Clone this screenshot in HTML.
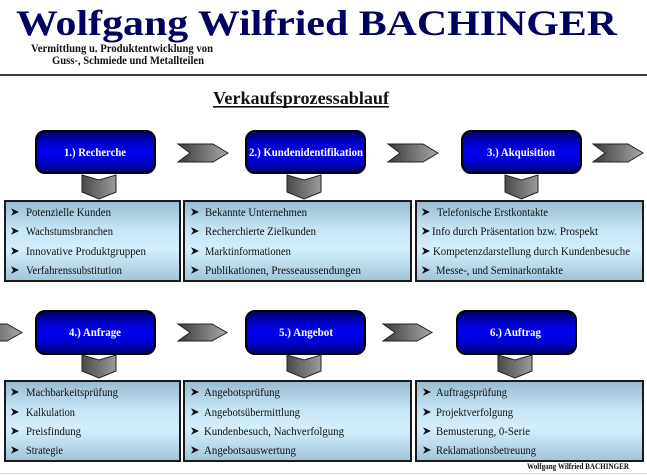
<!DOCTYPE html>
<html>
<head>
<meta charset="utf-8">
<style>
  html, body { margin: 0; padding: 0; background: #ffffff; }
  body { width: 647px; height: 475px; overflow: hidden; }
  svg { display: block; }
  .t { font-family: "Liberation Serif", "DejaVu Serif", serif; }
</style>
</head>
<body>
<svg width="647" height="475" viewBox="0 0 647 475" xmlns="http://www.w3.org/2000/svg">
  <defs>
    <linearGradient id="blue" x1="0" y1="0" x2="0" y2="1">
      <stop offset="0" stop-color="#00005e"/>
      <stop offset="0.28" stop-color="#0000c8"/>
      <stop offset="0.5" stop-color="#0000f2"/>
      <stop offset="0.75" stop-color="#0000cc"/>
      <stop offset="1" stop-color="#00006a"/>
    </linearGradient>
    <linearGradient id="light" x1="0" y1="0" x2="0" y2="1">
      <stop offset="0" stop-color="#98bbcf"/>
      <stop offset="0.35" stop-color="#c6e4f4"/>
      <stop offset="0.6" stop-color="#d4effc"/>
      <stop offset="1" stop-color="#a2c4d8"/>
    </linearGradient>
    <linearGradient id="gray" x1="0" y1="0" x2="1" y2="0">
      <stop offset="0" stop-color="#3a3a3a"/>
      <stop offset="1" stop-color="#a8a8a8"/>
    </linearGradient>
    <linearGradient id="grayd" x1="0" y1="0" x2="1" y2="0">
      <stop offset="0" stop-color="#4a4a4a"/>
      <stop offset="1" stop-color="#9a9a9a"/>
    </linearGradient>
    <path id="bul" d="M0,-3.8 L8,0 L0,3.8 L2.2,0 Z" fill="#111"/>
  </defs>

  <!-- Header -->
  <text class="t" x="16" y="35" font-size="36" font-weight="bold" fill="#000060" textLength="601" lengthAdjust="spacingAndGlyphs">Wolfgang Wilfried BACHINGER</text>
  <text class="t" x="31" y="52" font-size="12" font-weight="bold" fill="#111" textLength="182" lengthAdjust="spacingAndGlyphs">Vermittlung u. Produktentwicklung von</text>
  <text class="t" x="52" y="64" font-size="12" font-weight="bold" fill="#111" textLength="152" lengthAdjust="spacingAndGlyphs">Guss-, Schmiede und Metallteilen</text>
  <rect x="0" y="74" width="647" height="2" fill="#3a3a3a"/>

  <text class="t" x="213" y="104" font-size="18" font-weight="bold" fill="#111" textLength="176" lengthAdjust="spacingAndGlyphs">Verkaufsprozessablauf</text>
  <rect x="213" y="106" width="176" height="1.6" fill="#111"/>

  <!-- Row 1 blue boxes -->
  <rect x="36" y="131" width="119" height="42" rx="9" fill="url(#blue)" stroke="#000" stroke-width="2"/>
  <rect x="246" y="131" width="119" height="42" rx="9" fill="url(#blue)" stroke="#000" stroke-width="2"/>
  <rect x="462" y="131" width="119" height="42" rx="9" fill="url(#blue)" stroke="#000" stroke-width="2"/>
  <text class="t" x="64" y="156" font-size="11.5" font-weight="bold" fill="#fff" textLength="62" lengthAdjust="spacingAndGlyphs">1.) Recherche</text>
  <text class="t" x="249" y="156" font-size="11.5" font-weight="bold" fill="#fff" textLength="114" lengthAdjust="spacingAndGlyphs">2.) Kundenidentifikation</text>
  <text class="t" x="487" y="156" font-size="11.5" font-weight="bold" fill="#fff" textLength="68" lengthAdjust="spacingAndGlyphs">3.) Akquisition</text>

  <!-- Row 1 horizontal chevrons -->
  <polygon points="178,144 213,144 228,153 213,162 178,162 190,153" fill="url(#gray)" stroke="#222" stroke-width="1"/>
  <polygon points="388,144 423,144 438,153 423,162 388,162 400,153" fill="url(#gray)" stroke="#222" stroke-width="1"/>
  <polygon points="593,144 628,144 643,153 628,162 593,162 605,153" fill="url(#gray)" stroke="#222" stroke-width="1"/>

  <!-- Row 1 down chevrons -->
  <polygon points="82,175 99,180 116,175 116,192 99,199 82,192" fill="url(#grayd)" stroke="#222" stroke-width="1"/>
  <polygon points="287,175 304,180 321,175 321,192 304,199 287,192" fill="url(#grayd)" stroke="#222" stroke-width="1"/>
  <polygon points="505,175 521.5,180 538,175 538,192 521.5,199 505,192" fill="url(#grayd)" stroke="#222" stroke-width="1"/>

  <!-- Row 1 content boxes -->
  <rect x="5" y="201" width="175" height="80" fill="url(#light)" stroke="#1a1a1a" stroke-width="2"/>
  <rect x="184" y="201" width="227" height="80" fill="url(#light)" stroke="#1a1a1a" stroke-width="2"/>
  <rect x="416" y="201" width="227" height="80" fill="url(#light)" stroke="#1a1a1a" stroke-width="2"/>

  <g class="t" font-size="11.5" fill="#111">
    <use href="#bul" x="11" y="212"/><text x="26" y="216" textLength="85" lengthAdjust="spacingAndGlyphs">Potenzielle Kunden</text>
    <use href="#bul" x="11" y="231"/><text x="26" y="235" textLength="87" lengthAdjust="spacingAndGlyphs">Wachstumsbranchen</text>
    <use href="#bul" x="11" y="251"/><text x="26" y="255" textLength="120" lengthAdjust="spacingAndGlyphs">Innovative Produktgruppen</text>
    <use href="#bul" x="11" y="270"/><text x="26" y="274" textLength="96" lengthAdjust="spacingAndGlyphs">Verfahrenssubstitution</text>

    <use href="#bul" x="191" y="212"/><text x="205" y="216" textLength="102" lengthAdjust="spacingAndGlyphs">Bekannte Unternehmen</text>
    <use href="#bul" x="191" y="231"/><text x="205" y="235" textLength="111" lengthAdjust="spacingAndGlyphs">Recherchierte Zielkunden</text>
    <use href="#bul" x="191" y="251"/><text x="205" y="255" textLength="86" lengthAdjust="spacingAndGlyphs">Marktinformationen</text>
    <use href="#bul" x="191" y="270"/><text x="205" y="274" textLength="156" lengthAdjust="spacingAndGlyphs">Publikationen, Presseaussendungen</text>

    <use href="#bul" x="422" y="212"/><text x="437" y="216" textLength="111" lengthAdjust="spacingAndGlyphs">Telefonische Erstkontakte</text>
    <use href="#bul" x="422" y="231"/><text x="432" y="235" textLength="166" lengthAdjust="spacingAndGlyphs">Info durch Präsentation bzw. Prospekt</text>
    <use href="#bul" x="422" y="251"/><text x="433" y="255" textLength="197" lengthAdjust="spacingAndGlyphs">Kompetenzdarstellung durch Kundenbesuche</text>
    <use href="#bul" x="422" y="270"/><text x="436" y="274" textLength="127" lengthAdjust="spacingAndGlyphs">Messe-, und Seminarkontakte</text>
  </g>

  <!-- Row 2 blue boxes -->
  <rect x="36" y="311" width="119" height="43" rx="9" fill="url(#blue)" stroke="#000" stroke-width="2"/>
  <rect x="246" y="311" width="119" height="43" rx="9" fill="url(#blue)" stroke="#000" stroke-width="2"/>
  <rect x="457" y="311" width="119" height="43" rx="9" fill="url(#blue)" stroke="#000" stroke-width="2"/>
  <text class="t" x="69" y="336" font-size="11.5" font-weight="bold" fill="#fff" textLength="52" lengthAdjust="spacingAndGlyphs">4.) Anfrage</text>
  <text class="t" x="279" y="336" font-size="11.5" font-weight="bold" fill="#fff" textLength="54" lengthAdjust="spacingAndGlyphs">5.) Angebot</text>
  <text class="t" x="490" y="336" font-size="11.5" font-weight="bold" fill="#fff" textLength="51" lengthAdjust="spacingAndGlyphs">6.) Auftrag</text>

  <!-- Row 2 horizontal chevrons -->
  <polygon points="-28,324 7,324 22,332.5 7,341 -28,341 -16,332.5" fill="url(#gray)" stroke="#222" stroke-width="1"/>
  <polygon points="178,324 212,324 227,332.5 212,341 178,341 190,332.5" fill="url(#gray)" stroke="#222" stroke-width="1"/>
  <polygon points="383,324 417,324 432,332.5 417,341 383,341 395,332.5" fill="url(#gray)" stroke="#222" stroke-width="1"/>

  <!-- Row 2 down chevrons -->
  <polygon points="82,355 99,360 116,355 116,371 99,378 82,371" fill="url(#grayd)" stroke="#222" stroke-width="1"/>
  <polygon points="287,355 304,360 321,355 321,371 304,378 287,371" fill="url(#grayd)" stroke="#222" stroke-width="1"/>
  <polygon points="498,355 515,360 532,355 532,371 515,378 498,371" fill="url(#grayd)" stroke="#222" stroke-width="1"/>

  <!-- Row 2 content boxes -->
  <rect x="5" y="381" width="175" height="80" fill="url(#light)" stroke="#1a1a1a" stroke-width="2"/>
  <rect x="184" y="381" width="227" height="80" fill="url(#light)" stroke="#1a1a1a" stroke-width="2"/>
  <rect x="416" y="381" width="227" height="80" fill="url(#light)" stroke="#1a1a1a" stroke-width="2"/>

  <g class="t" font-size="11.5" fill="#111">
    <use href="#bul" x="11" y="392"/><text x="26" y="396" textLength="92" lengthAdjust="spacingAndGlyphs">Machbarkeitsprüfung</text>
    <use href="#bul" x="11" y="412"/><text x="26" y="416" textLength="49" lengthAdjust="spacingAndGlyphs">Kalkulation</text>
    <use href="#bul" x="11" y="431"/><text x="26" y="435" textLength="55" lengthAdjust="spacingAndGlyphs">Preisfindung</text>
    <use href="#bul" x="11" y="450"/><text x="26" y="454" textLength="37" lengthAdjust="spacingAndGlyphs">Strategie</text>

    <use href="#bul" x="191" y="392"/><text x="204" y="396" textLength="76" lengthAdjust="spacingAndGlyphs">Angebotsprüfung</text>
    <use href="#bul" x="191" y="412"/><text x="204" y="416" textLength="96" lengthAdjust="spacingAndGlyphs">Angebotsübermittlung</text>
    <use href="#bul" x="191" y="431"/><text x="204" y="435" textLength="140" lengthAdjust="spacingAndGlyphs">Kundenbesuch, Nachverfolgung</text>
    <use href="#bul" x="191" y="450"/><text x="204" y="454" textLength="92" lengthAdjust="spacingAndGlyphs">Angebotsauswertung</text>

    <use href="#bul" x="423" y="392"/><text x="436" y="396" textLength="71" lengthAdjust="spacingAndGlyphs">Auftragsprüfung</text>
    <use href="#bul" x="423" y="412"/><text x="436" y="416" textLength="77" lengthAdjust="spacingAndGlyphs">Projektverfolgung</text>
    <use href="#bul" x="423" y="431"/><text x="436" y="435" textLength="94" lengthAdjust="spacingAndGlyphs">Bemusterung, 0-Serie</text>
    <use href="#bul" x="423" y="450"/><text x="436" y="454" textLength="100" lengthAdjust="spacingAndGlyphs">Reklamationsbetreuung</text>
  </g>

  <!-- Footer -->
  <text class="t" x="527" y="469" font-size="8" font-weight="bold" fill="#111" textLength="102" lengthAdjust="spacingAndGlyphs">Wolfgang Wilfried BACHINGER</text>
  <rect x="0" y="473" width="647" height="1" fill="#e2e2e2"/>
</svg>
</body>
</html>
